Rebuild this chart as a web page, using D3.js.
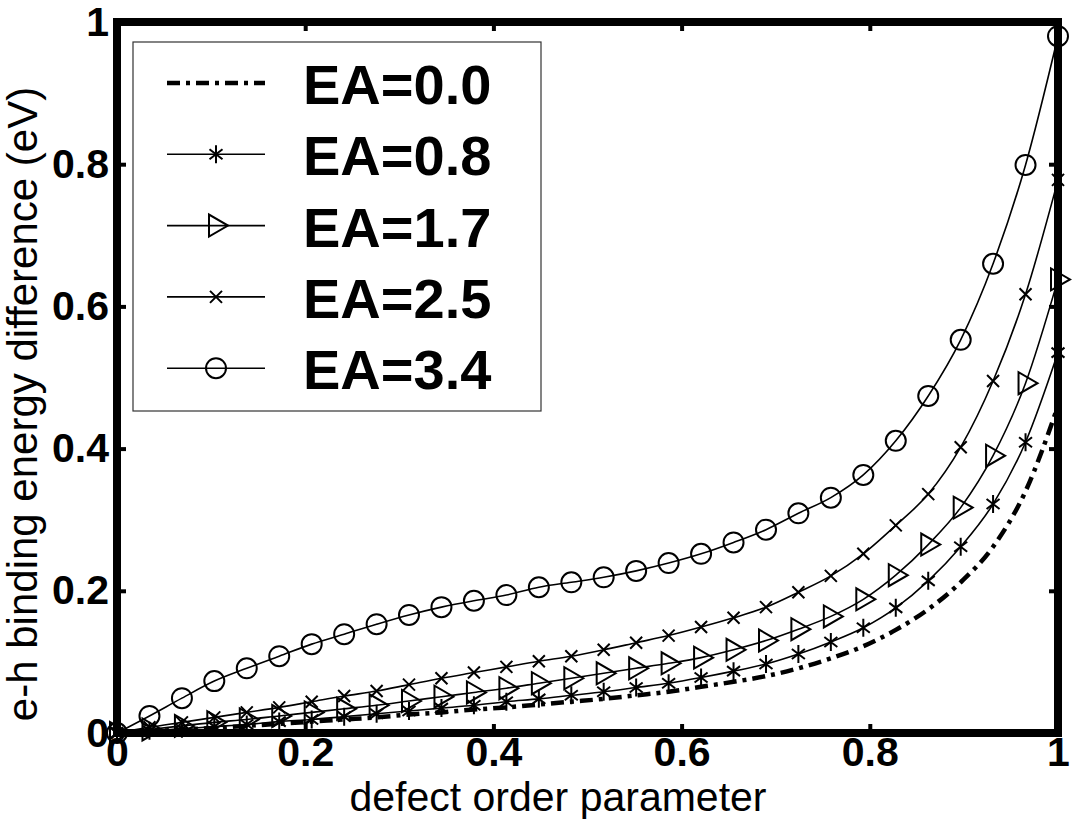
<!DOCTYPE html>
<html>
<head>
<meta charset="utf-8">
<script src="https://cdn.jsdelivr.net/npm/d3@7"></script>
<style>
body { margin: 0; background: #fff; }
.main text { font-family: "Liberation Sans", Arial, Helvetica, sans-serif; fill: #000; }
</style>
</head>
<body>
<div class="main"></div>
<script>
// defect order parameter (x) - same grid for every curve
var xValues = [0, 0.0345, 0.0690, 0.1034, 0.1379, 0.1724, 0.2069, 0.2414, 0.2759, 0.3103,
               0.3448, 0.3793, 0.4138, 0.4483, 0.4828, 0.5172, 0.5517, 0.5862, 0.6207, 0.6552,
               0.6897, 0.7241, 0.7586, 0.7931, 0.8276, 0.8621, 0.8966, 0.9310, 0.9655, 1];

// e-h binding energy difference (eV)
var ea00 = [0, 0.002, 0.005, 0.007, 0.010, 0.013, 0.016, 0.019, 0.022, 0.026,
            0.029, 0.033, 0.036, 0.040, 0.044, 0.048, 0.053, 0.058, 0.065, 0.072,
            0.080, 0.091, 0.105, 0.122, 0.145, 0.174, 0.212, 0.262, 0.340, 0.460];
var ea08 = [0, 0.003, 0.006, 0.009, 0.012, 0.016, 0.019, 0.023, 0.027, 0.031,
            0.035, 0.039, 0.044, 0.048, 0.053, 0.058, 0.064, 0.070, 0.078, 0.087,
            0.097, 0.111, 0.128, 0.148, 0.176, 0.214, 0.262, 0.322, 0.409, 0.535];
var ea17 = [0, 0.005, 0.010, 0.015, 0.019, 0.024, 0.029, 0.034, 0.039, 0.045,
            0.051, 0.057, 0.063, 0.070, 0.077, 0.084, 0.091, 0.098, 0.106, 0.117,
            0.130, 0.146, 0.164, 0.188, 0.222, 0.265, 0.317, 0.390, 0.492, 0.638];
var ea25 = [0, 0.008, 0.015, 0.022, 0.029, 0.036, 0.044, 0.052, 0.059, 0.068,
            0.077, 0.085, 0.093, 0.101, 0.108, 0.117, 0.127, 0.137, 0.149, 0.162,
            0.177, 0.198, 0.221, 0.252, 0.292, 0.336, 0.402, 0.495, 0.617, 0.778];
var ea34 = [0, 0.024, 0.049, 0.073, 0.091, 0.108, 0.125, 0.139, 0.153, 0.166,
            0.177, 0.186, 0.194, 0.205, 0.212, 0.219, 0.228, 0.239, 0.252, 0.268,
            0.286, 0.309, 0.331, 0.363, 0.411, 0.474, 0.553, 0.660, 0.799, 0.980];

var legendLabels = ["EA=0.0", "EA=0.8", "EA=1.7", "EA=2.5", "EA=3.4"];
var markerTypes = ["none", "star", "tri", "cross", "circle"];
var xTicks = [0, 0.2, 0.4, 0.6, 0.8, 1];
var xTickLabels = ["0", "0.2", "0.4", "0.6", "0.8", "1"];
var yTicks = [0, 0.2, 0.4, 0.6, 0.8, 1];
var yTickLabels = ["0", "0.2", "0.4", "0.6", "0.8", "1"];

var seriesValues = [ea00, ea08, ea17, ea25, ea34];
var series = seriesValues.map(function(vals, k) {
    return {
        label: legendLabels[k],
        marker: markerTypes[k],
        points: vals.map(function(v, i) { return {x: xValues[i], y: v}; })
    };
});

const margin = {top: 22, right: 26, bottom: 87, left: 117};
const width = 1084 - margin.left - margin.right;
const height = 820 - margin.top - margin.bottom;

var svg = d3.select(".main").append("svg")
    .attr("width", width + margin.left + margin.right)
    .attr("height", height + margin.top + margin.bottom)
    .append("g")
    .attr("transform", `translate(${margin.left},${margin.top})`);

var x = d3.scaleLinear().domain([0, 1]).range([0, width]);
var y = d3.scaleLinear().domain([0, 1]).range([height, 0]);

// marker shapes (open, like the matlab ones)
var markerPath = {
    star: "M0,-9V9M-6.5,-5L6.5,5M-6.5,5L6.5,-5",
    tri: "M-7,-11L-7,11L12,0Z",
    cross: "M-6,-6L6,6M-6,6L6,-6"
};

function addMarker(sel, type) {
    if (type == "none") return;
    if (type == "circle") {
        sel.append("circle")
            .attr("r", 10)
            .style("fill", "none")
            .style("stroke", "black")
            .style("stroke-width", 2);
    } else {
        sel.append("path")
            .attr("d", markerPath[type])
            .style("fill", "none")
            .style("stroke", "black")
            .style("stroke-width", 2);
    }
}

var line = d3.line()
    .x(function(d) { return x(d.x); })
    .y(function(d) { return y(d.y); })
    .curve(d3.curveMonotoneX);

// curves
series.forEach(function(s) {
    svg.append("path")
        .datum(s.points)
        .attr("d", line)
        .style("fill", "none")
        .style("stroke", "black")
        .style("stroke-width", s.marker == "none" ? 4.5 : 1.6)
        .style("stroke-dasharray", s.marker == "none" ? "13,6,4,6" : null);

    if (s.marker != "none") {
        svg.selectAll(null)
            .data(s.points)
            .enter()
            .append("g")
            .attr("transform", function(d) { return `translate(${x(d.x)},${y(d.y)})`; })
            .each(function() { addMarker(d3.select(this), s.marker); });
    }
});

// axes: ticks point inwards, labels bold
var xAxis = svg.append("g")
    .attr("transform", "translate(0," + height + ")")
    .call(d3.axisBottom(x).tickValues(xTicks)
        .tickFormat(function(d, i) { return xTickLabels[i]; })
        .tickSizeInner(-9).tickSizeOuter(0).tickPadding(4));
var yAxis = svg.append("g")
    .call(d3.axisLeft(y).tickValues(yTicks)
        .tickFormat(function(d, i) { return yTickLabels[i]; })
        .tickSizeInner(-9).tickSizeOuter(0).tickPadding(8));
var topAxis = svg.append("g")
    .call(d3.axisTop(x).tickValues(xTicks).tickFormat("").tickSizeInner(-9).tickSizeOuter(0));
var rightAxis = svg.append("g")
    .attr("transform", "translate(" + width + ",0)")
    .call(d3.axisRight(y).tickValues(yTicks).tickFormat("").tickSizeInner(-9).tickSizeOuter(0));

[xAxis, yAxis, topAxis, rightAxis].forEach(function(a) {
    a.select(".domain").remove();
    a.selectAll(".tick line").style("stroke", "black").style("stroke-width", 4);
    a.selectAll(".tick text")
        .style("font-size", "41px")
        .style("font-weight", "bold")
        .style("fill", "black");
});

// thick box
svg.append("rect")
    .attr("x", 0)
    .attr("y", 0)
    .attr("width", width)
    .attr("height", height)
    .style("fill", "none")
    .style("stroke", "black")
    .style("stroke-width", 8);

// axis labels
svg.append("text")
    .attr("x", 558 - margin.left)
    .attr("y", 811 - margin.top)
    .attr("text-anchor", "middle")
    .text("defect order parameter")
    .style("font-size", "41px");

svg.append("text")
    .attr("transform", "translate(" + (37 - margin.left) + "," + (404 - margin.top) + ") rotate(-90)")
    .attr("text-anchor", "middle")
    .text("e-h binding energy difference (eV)")
    .style("font-size", "42px");

// legend
var legend = svg.append("g")
    .attr("transform", "translate(16,20)");

legend.append("rect")
    .attr("x", 0)
    .attr("y", 0)
    .attr("width", 408)
    .attr("height", 369)
    .style("fill", "white")
    .style("stroke", "#333")
    .style("stroke-width", 1.2);

series.forEach(function(s, k) {
    var row = legend.append("g")
        .attr("transform", "translate(0," + (41 + k * 71.3) + ")");
    row.append("line")
        .attr("x1", 34)
        .attr("x2", 132)
        .attr("y1", 0)
        .attr("y2", 0)
        .style("stroke", "black")
        .style("stroke-width", s.marker == "none" ? 4.5 : 1.6)
        .style("stroke-dasharray", s.marker == "none" ? "13,6,4,6" : null);
    addMarker(row.append("g").attr("transform", "translate(83,0)"), s.marker);
    row.append("text")
        .attr("x", 170)
        .attr("y", 21)
        .text(s.label)
        .style("font-size", "56px")
        .style("font-weight", "bold");
});
</script>
</body>
</html>
